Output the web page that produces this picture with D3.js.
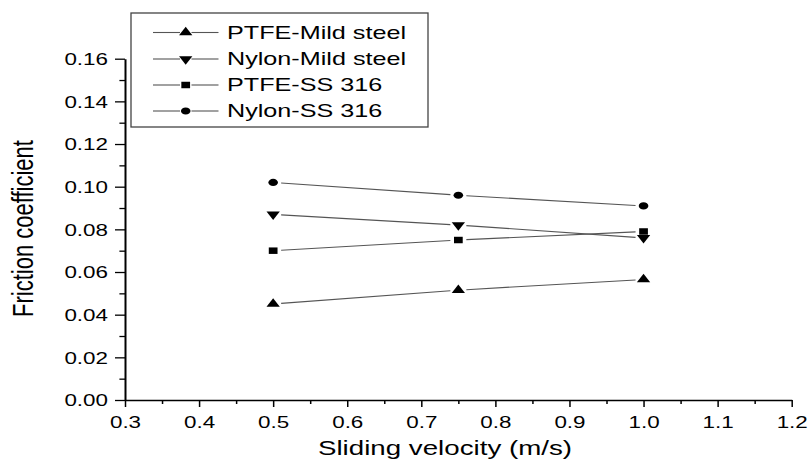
<!DOCTYPE html>
<html>
<head>
<meta charset="utf-8">
<script src="https://cdn.jsdelivr.net/npm/d3@7/dist/d3.min.js"></script>
<style>
  html, body { margin: 0; padding: 0; background: #fff; }
  svg { display: block; font-family: "Liberation Sans", Arial, sans-serif; }
</style>
</head>
<body>
<svg id="chart" width="810" height="462"></svg>
<script>
// Sliding velocity (m/s) at which each pair was tested
const velocity = [0.5, 0.75, 1.0];

// Friction coefficient per material pair
const ptfeMild  = [0.045, 0.0515, 0.0565];
const nylonMild = [0.087, 0.082, 0.076];
const ptfeSS    = [0.070, 0.075, 0.079];
const nylonSS   = [0.102, 0.096, 0.091];

const seriesNames = ["PTFE-Mild steel", "Nylon-Mild steel", "PTFE-SS 316", "Nylon-SS 316"];
const seriesSymbols = ["up", "down", "square", "circle"];
const seriesValues = [ptfeMild, nylonMild, ptfeSS, nylonSS];

const xTickValues = [0.3, 0.4, 0.5, 0.6, 0.7, 0.8, 0.9, 1.0, 1.1, 1.2];
const yTickValues = [0.00, 0.02, 0.04, 0.06, 0.08, 0.10, 0.12, 0.14, 0.16];

// horizontal text/marker stretch used throughout the figure
const SX = 1.4;

const svg = d3.select("#chart");
const x = d3.scaleLinear().domain([0.3, 1.2]).range([125, 791.7]);
const y = d3.scaleLinear().domain([0, 0.16]).range([400, 58.7]);

// ---- x axis ----
const xMinor = d3.range(0.35, 1.2, 0.1).map(v => +v.toFixed(2));
const gx = svg.append("g").attr("transform", "translate(0,400)");
gx.call(d3.axisBottom(x).tickValues(xMinor).tickSize(4).tickFormat(""));
gx.select(".domain").remove();
const gx2 = svg.append("g").attr("transform", "translate(0,400)");
gx2.call(d3.axisBottom(x).tickValues(xTickValues).tickSize(7).tickSizeOuter(0)
  .tickFormat(d3.format(".1f")));
gx2.select(".domain").attr("stroke-width", 1.5).attr("stroke", "#000");
[gx, gx2].forEach(g => g.selectAll(".tick line").attr("stroke", "#000").attr("stroke-width", 1.5));
gx2.selectAll(".tick text")
  .attr("font-size", 16).attr("fill", "#000")
  .attr("y", 0).attr("dy", 0)
  .attr("transform", `translate(0,27.7) scale(${SX},1)`);

// ---- y axis ----
const yMinor = d3.range(0.01, 0.16, 0.02).map(v => +v.toFixed(3));
const gy = svg.append("g").attr("transform", "translate(125,0)");
gy.call(d3.axisLeft(y).tickValues(yMinor).tickSize(5.6).tickFormat(""));
gy.select(".domain").remove();
const gy2 = svg.append("g").attr("transform", "translate(125,0)");
gy2.call(d3.axisLeft(y).tickValues(yTickValues).tickSize(10).tickSizeOuter(0)
  .tickFormat(d3.format(".2f")));
gy2.select(".domain").attr("stroke-width", 2).attr("stroke", "#000");
[gy, gy2].forEach(g => g.selectAll(".tick line").attr("stroke", "#000").attr("stroke-width", 1.3));
gy2.selectAll(".tick text")
  .attr("font-size", 16).attr("fill", "#000")
  .attr("x", 0).attr("dy", "0.36em")
  .attr("transform", `translate(-17,0) scale(${SX},1)`);

// ---- axis titles ----
svg.append("text")
  .attr("transform", `translate(445,455) scale(${SX},1)`)
  .attr("text-anchor", "middle").attr("font-size", 19.8).attr("fill", "#000")
  .text("Sliding velocity (m/s)");
svg.append("text")
  .attr("transform", `translate(33,228.5) scale(1.3,1) rotate(-90)`)
  .attr("text-anchor", "middle").attr("font-size", 22).attr("fill", "#000")
  .text("Friction coefficient");

// ---- markers ----
function drawSymbol(g, kind, cx, cy) {
  let path;
  if (kind === "circle") path = d3.symbol(d3.symbolCircle, 40)();
  else if (kind === "square") path = d3.symbol(d3.symbolSquare, 42)();
  else path = d3.symbol(d3.symbolTriangle, 42)();
  const rot = kind === "down" ? " rotate(180)" : "";
  g.append("path")
    .attr("d", path)
    .attr("fill", "#000")
    .attr("transform", `translate(${cx},${cy}) scale(1.35,1)${rot}`);
}

// line segments stop short of each marker
function gappedSegment(g, x1, y1, x2, y2, gap) {
  const dx = x2 - x1, dy = y2 - y1, len = Math.hypot(dx, dy);
  const ux = dx / len, uy = dy / len;
  g.append("line")
    .attr("x1", x1 + ux * gap).attr("y1", y1 + uy * gap)
    .attr("x2", x2 - ux * gap).attr("y2", y2 - uy * gap)
    .attr("stroke", "#555").attr("stroke-width", 1.1);
}

const plot = svg.append("g");
seriesValues.forEach((vals, si) => {
  const pts = vals.map((v, i) => [x(velocity[i]), y(v)]);
  for (let i = 0; i < pts.length - 1; i++) {
    gappedSegment(plot, pts[i][0], pts[i][1], pts[i + 1][0], pts[i + 1][1], 8);
  }
  pts.forEach(p => drawSymbol(plot, seriesSymbols[si], p[0], p[1]));
});

// ---- legend ----
const legend = svg.append("g");
legend.append("rect")
  .attr("x", 131).attr("y", 13).attr("width", 297).attr("height", 114)
  .attr("fill", "#fff").attr("stroke", "#444").attr("stroke-width", 1.3);
const rowY = [32.5, 59, 85, 111];
seriesNames.forEach((name, i) => {
  const ry = rowY[i];
  legend.append("line").attr("x1", 153).attr("x2", 180).attr("y1", ry).attr("y2", ry)
    .attr("stroke", "#555").attr("stroke-width", 1.1);
  legend.append("line").attr("x1", 191.5).attr("x2", 218.5).attr("y1", ry).attr("y2", ry)
    .attr("stroke", "#555").attr("stroke-width", 1.1);
  drawSymbol(legend, seriesSymbols[i], 185.7, ry);
  legend.append("text")
    .attr("transform", `translate(227,${ry}) scale(${SX},1)`)
    .attr("dy", "0.36em").attr("font-size", 18).attr("fill", "#000")
    .text(name);
});
</script>
</body>
</html>
